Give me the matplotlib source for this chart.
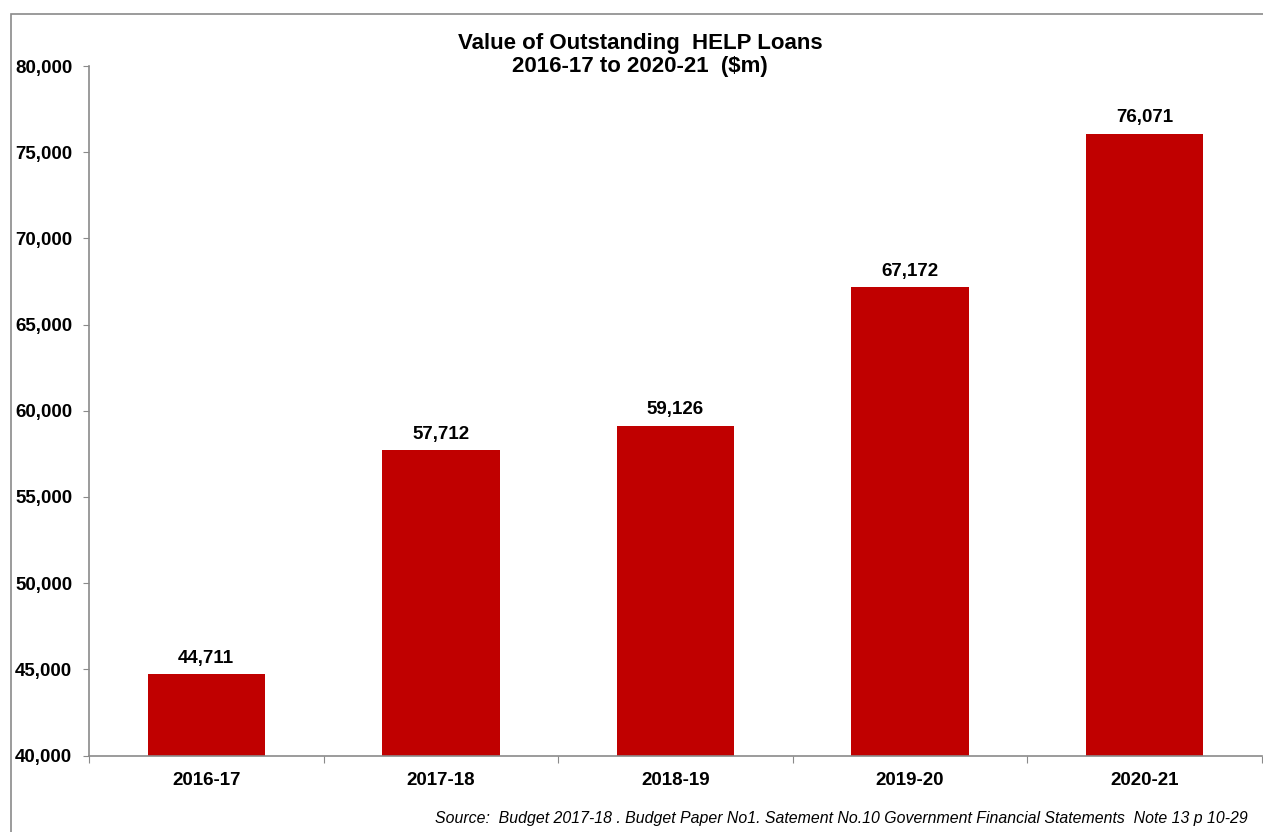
import matplotlib
matplotlib.use("Agg")
import matplotlib.pyplot as plt
from matplotlib.patches import Rectangle
from matplotlib.ticker import FuncFormatter

plt.rcParams['font.family'] = ['Liberation Sans', 'DejaVu Sans']

years = ["2016-17", "2017-18", "2018-19", "2019-20", "2020-21"]
loans = [44711, 57712, 59126, 67172, 76071]
y_ticks = [40000, 45000, 50000, 55000, 60000, 65000, 70000, 75000, 80000]

W, H = 1263, 832
fig = plt.figure(figsize=(W / 100, H / 100), dpi=100)
fig.patch.set_facecolor("white")

# outer frame of the chart area (runs off the right and bottom edges)
fig.add_artist(Rectangle((11 / W, -0.05), 1.2, 1 - 14 / H + 0.05,
                         transform=fig.transFigure, fill=False,
                         edgecolor="#8a8a8a", linewidth=1.2, zorder=0))

ax = fig.add_axes([89 / W, 1 - 755.6 / H, (1262 - 89) / W, (755.6 - 66) / H])

x = list(range(len(years)))
bars = ax.bar(x, loans, width=0.5, color="#C00000", zorder=2)

ax.set_xlim(-0.5, len(years) - 0.5)
ax.set_ylim(40000, 80000)
ax.set_yticks(y_ticks)
ax.yaxis.set_major_formatter(FuncFormatter(lambda v, p: f"{int(v):,}"))

# category labels centred under bars, ticks on category boundaries
ax.set_xticks([i - 0.5 for i in range(len(years) + 1)])
ax.set_xticklabels([])
ax.set_xticks(x, minor=True)
ax.set_xticklabels(years, minor=True, fontsize=13.5, fontweight="bold")
ax.tick_params(axis="x", which="minor", length=0, pad=12)
ax.tick_params(axis="x", which="major", length=5, color="#8a8a8a", direction="out")
ax.tick_params(axis="y", length=4, color="#8a8a8a", pad=8, labelsize=13.5)
for lbl in ax.get_yticklabels():
    lbl.set_fontweight("bold")

for side in ("top", "right"):
    ax.spines[side].set_visible(False)
for side in ("left", "bottom"):
    ax.spines[side].set_color("#8a8a8a")
    ax.spines[side].set_linewidth(1.2)

for rect, val in zip(bars, loans):
    ax.annotate(f"{val:,}", (rect.get_x() + rect.get_width() / 2, val),
                xytext=(0, 5.5), textcoords="offset points",
                ha="center", va="bottom", fontsize=13.5, fontweight="bold")

fig.text(640 / W, 1 - 33 / H, "Value of Outstanding  HELP Loans\n2016-17 to 2020-21  ($m)",
         ha="center", va="top", fontsize=16, fontweight="bold", linespacing=1.1)

fig.text(1248 / W, 1 - 818 / H,
         "Source:  Budget 2017-18 . Budget Paper No1. Satement No.10 Government Financial Statements  Note 13 p 10-29",
         ha="right", va="center", fontsize=11.4, style="italic")

fig.savefig("out.png", dpi=100)
